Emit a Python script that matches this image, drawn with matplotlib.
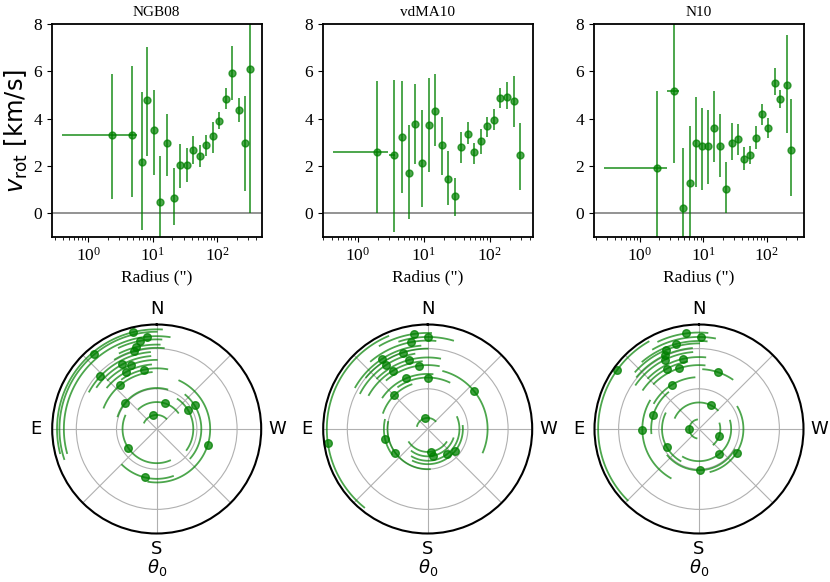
import numpy as np
import matplotlib
matplotlib.use('Agg')
import matplotlib.pyplot as plt

plt.rcParams['font.family'] = 'serif'
plt.rcParams['font.serif'] = ['Liberation Serif', 'DejaVu Serif']
plt.rcParams['axes.linewidth'] = 1.3

names = ['NGB08', 'vdMA10', 'N10']

# top row: radius ("), v_rot and the ends of the error bars
rad1 = [2.36, 4.81, 6.71, 8.22, 10.4, 13.1, 16.8, 21.0, 26.7, 33.9, 42.5, 53.9, 67.5,
        84.7, 107, 135, 171, 214, 272, 321]
v1 = [3.33, 3.33, 2.17, 4.81, 3.50, 0.48, 2.99, 0.64, 2.03, 2.03, 2.68, 2.44, 2.89,
      3.25, 3.90, 4.85, 5.94, 4.37, 2.99, 6.09]
vhi1 = [5.91, 6.23, 5.13, 7.05, 5.23, 2.43, 4.20, 1.90, 2.91, 2.74, 3.28, 2.89, 3.33,
        3.87, 4.28, 5.29, 7.09, 4.89, 4.98, 9.5]
vlo1 = [0.58, 0.67, -0.70, 2.44, 1.62, -1.5, 1.56, -0.50, 1.06, 1.33, 2.09, 1.94, 2.40,
        2.54, 3.57, 4.43, 4.78, 3.84, 0.95, 0.0]
xlo1 = [0.39, 4.3]
xhi1 = [4.5, 5.6]

rad2 = [1.92, 3.57, 4.62, 5.91, 7.38, 9.33, 11.8, 14.7, 18.6, 23.5, 29.3, 37.0, 46.8,
        58.4, 73.8, 92.1, 116, 145, 184, 229, 286]
v2 = [2.60, 2.47, 3.23, 1.69, 3.79, 2.14, 3.72, 4.34, 2.88, 1.46, 0.74, 2.81, 3.36,
      2.58, 3.05, 3.67, 3.96, 4.87, 4.92, 4.74, 2.47]
vhi2 = [5.59, 5.66, 5.59, 3.74, 5.46, 4.35, 5.72, 5.89, 4.07, 2.64, 1.50, 3.45, 3.84,
        2.99, 3.55, 4.06, 4.41, 5.28, 5.55, 5.79, 3.83]
vlo2 = [0.0, -0.81, 0.84, -0.27, 2.09, 0.26, 1.73, 2.84, 1.63, 0.33, -0.13, 2.14, 2.91,
        2.09, 2.50, 3.23, 3.52, 4.44, 4.41, 3.63, 0.99]
xlo2 = [0.42, 2.93]
xhi2 = [2.83, 3.7]

rad3 = [1.83, 3.47, 4.75, 6.05, 7.62, 9.35, 11.8, 14.6, 18.2, 22.6, 28.1, 35.4, 44.0,
        54.7, 68.0, 84.5, 105, 132, 162, 204, 242]
v3 = [1.93, 5.18, 0.20, 1.29, 2.98, 2.85, 2.84, 3.60, 2.84, 1.04, 2.96, 3.12, 2.30,
      2.45, 3.19, 4.18, 3.59, 5.53, 4.84, 5.43, 2.68]
vhi3 = [5.18, 9.0, 2.77, 3.70, 4.91, 4.45, 4.35, 5.16, 4.20, 2.16, 3.83, 3.79, 2.79,
        2.85, 3.67, 4.64, 4.01, 6.14, 5.22, 7.55, 4.84]
vlo3 = [-1.5, 2.14, -1.5, -1.5, 1.12, 0.99, 1.25, 2.16, 1.52, 0.0, 2.23, 2.45, 1.83,
        2.06, 2.71, 3.74, 3.18, 4.99, 4.44, 3.40, 0.71]
xlo3 = [0.271, 2.69]
xhi3 = [2.63, 4.16]

xlims = [(0.27, 486), (0.293, 447), (0.186, 380)]

# bottom row: log radius, theta_0 (deg) and the ends of each arc
pr1 = [0.35, 0.67, 0.85, 0.91, 1.02, 1.11, 1.24, 1.33, 1.42, 1.51, 1.61, 1.72, 1.82,
       1.92, 2.02, 2.10, 2.23, 2.31, 2.42, 2.48]
pa1 = [14, -17, 123, -58, 50, -58, 166, -107, 40, 12, 28, 22, 28, 47, 16, 14, 11, 6, 40, 14]
palo1 = [-43, -53, 67, -125, -15, -131, 136, -189, 5, -10, 5, 0, 5, 5, -5, -2, -3, -8, 0, -3]
pahi1 = [63, 42, 203, -35, 72, -40, 199, -25, 68, 35, 50, 45, 55, 61, 31, 26, 25, 105, 108, 104]

pr2 = [0.275, 0.57, 0.68, 0.79, 0.875, 1.0, 1.09, 1.18, 1.28, 1.37, 1.49, 1.59, 1.69,
       1.78, 1.90, 2.0, 2.08, 2.2, 2.29, 2.39, 2.51]
pa2 = [12, 188, 191, 218, 232, 126, 103, 45, 0, 23, -50, 8, 31, 15, 33, 18, 33, 11, 0, 8, 98]
palo2 = [-45, 125, 144, 150, 155, 80, 78, 20, -25, -5, -113, -10, 5, -10, 10, 0, 5, -5,
         -16, -2, 23]
pahi2 = [74, 235, 250, 292, 275, 183, 125, 70, 35, 55, -15, 40, 60, 45, 62, 50, 60, 40,
         18, 30, 141]

pr3 = [0.24, 0.53, 0.66, 0.80, 0.92, 1.025, 1.105, 1.19, 1.29, 1.41, 1.49, 1.59, 1.70,
       1.79, 1.92, 2.02, 2.13, 2.19, 2.29, 2.40, 2.51]
pa3 = [90, 252, -26, 219, 119, 181, 238, 73, 32, 91, -19, 18, 28, 13, 26, 25, 23, 15, -1, 8, 54]
palo3 = [12, 223, -45, 150, 65, 130, 195, 40, 5, 60, -34, -5, 10, -5, 5, 5, 0, -5, -10,
         -5, 30]
pahi3 = [165, 285, 65, 285, 150, 240, 300, 95, 60, 150, -4, 45, 55, 45, 55, 50, 48, 40,
         30, 25, 135]

top = [(rad1, v1, vlo1, vhi1, xlo1, xhi1), (rad2, v2, vlo2, vhi2, xlo2, xhi2),
       (rad3, v3, vlo3, vhi3, xlo3, xhi3)]
bottom = [(pr1, pa1, palo1, pahi1), (pr2, pa2, palo2, pahi2), (pr3, pa3, palo3, pahi3)]

W, H = 830, 582
fig = plt.figure(figsize=(W / 100, H / 100), dpi=100)

top_left = [51.7, 322.7, 593.7]
centers = [156.7, 427.7, 699.0]
prad = 104.5

for i in range(3):
    rad, v, vlo, vhi, xlo, xhi = top[i]
    rad = np.array(rad)
    v = np.array(v)
    ax = fig.add_axes([top_left[i] / W, 1 - 236.7 / H, 210 / W, 212.4 / H])
    xerr = np.zeros((2, len(rad)))
    xerr[0, :2] = rad[:2] - np.array(xlo)
    xerr[1, :2] = np.array(xhi) - rad[:2]
    yerr = [v - np.array(vlo), np.array(vhi) - v]
    ax.axhline(0, color='grey', lw=1.2)
    ax.errorbar(rad, v, yerr=yerr, xerr=xerr, fmt='o', color='g', alpha=0.7,
                ms=5, elinewidth=1.4)
    ax.set_xscale('log')
    ax.set_xlim(*xlims[i])
    ax.set_ylim(-1, 8)
    ax.set_yticks([0, 2, 4, 6, 8])
    ax.tick_params(labelsize=12.5)
    ax.set_title(names[i], fontsize=11)
    ax.set_xlabel('Radius (")', fontsize=12.5)
    if i == 0:
        ax.set_ylabel(r'$v_{\rm rot}$ [km/s]', fontsize=17.5, family='DejaVu Sans',
                      math_fontfamily='dejavusans', labelpad=2)

    pr, pa, palo, pahi = bottom[i]
    cx = centers[i]
    pax = fig.add_axes([(cx - prad) / W, 1 - (429 + prad) / H, 2 * prad / W, 2 * prad / H],
                       projection='polar')
    pax.set_theta_zero_location('N')
    pax.set_theta_direction(1)
    for r, lo, hi in zip(pr, palo, pahi):
        th = np.radians(np.linspace(lo, hi, 80))
        pax.plot(th, np.full_like(th, r), color='g', alpha=0.7, lw=1.3)
    pax.plot(np.radians(pa), pr, 'o', color='g', alpha=0.75, ms=5.5)
    pax.set_rlim(0, 2.6)
    pax.set_rticks([1, 2])
    pax.set_yticklabels([])
    pax.set_thetagrids(range(0, 360, 45), labels=['N', '', 'E', '', 'S', '', 'W', ''],
                       fontsize=13, family='DejaVu Sans')
    pax.tick_params(axis='x', pad=1)
    pax.grid(color='#b0b0b0', lw=0.8)
    pax.spines['polar'].set_linewidth(1.5)
    pax.set_xlabel(r'$\theta_0$', fontsize=13, family='DejaVu Sans',
                   math_fontfamily='dejavusans', labelpad=-1)

fig.savefig('out.png', dpi=100)
